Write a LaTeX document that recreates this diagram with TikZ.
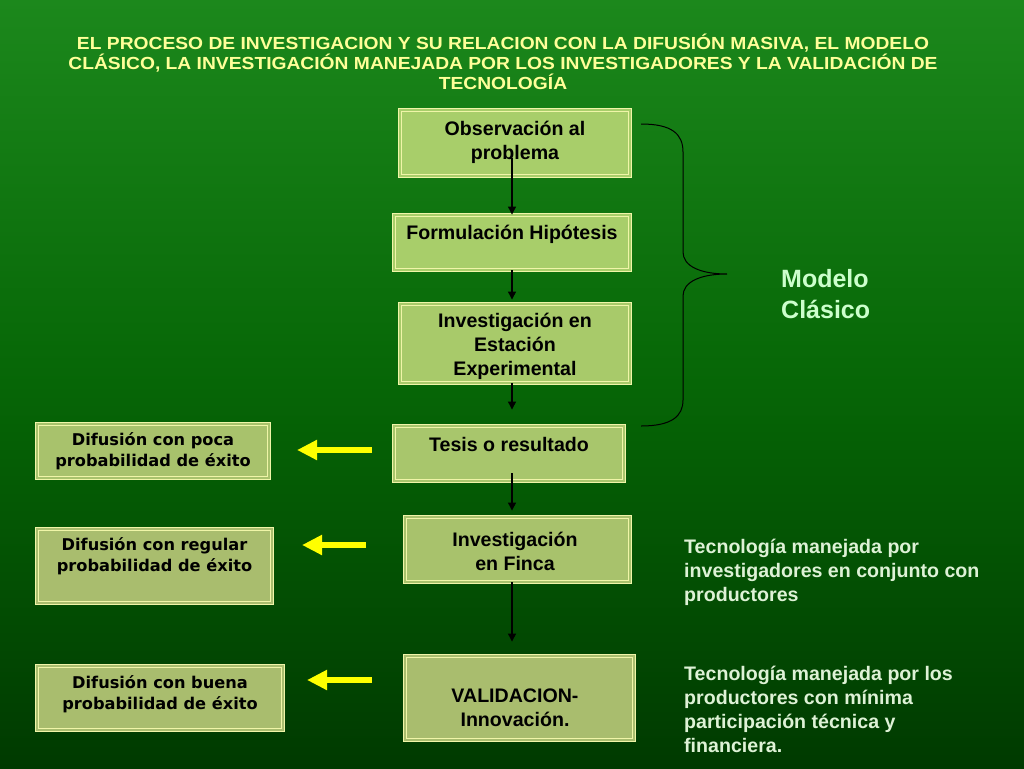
\documentclass[tikz,border=0pt]{standalone}
\usepackage{fontspec}
\setmainfont{Liberation Sans}
\newfontfamily\verd{DejaVu Sans}
\newfontfamily\ttlfont{Liberation Sans}[FakeStretch=1.1]
\usetikzlibrary{arrows.meta,calc}
\definecolor{bgtop}{RGB}{28,136,28}
\definecolor{bgmid}{RGB}{6,102,6}
\definecolor{bgbot}{RGB}{0,58,0}
\definecolor{bord}{RGB}{240,245,168}
\definecolor{fa}{RGB}{168,206,106}
\definecolor{fb}{RGB}{168,202,106}
\definecolor{fc}{RGB}{168,198,108}
\definecolor{fd}{RGB}{168,194,108}
\definecolor{fe}{RGB}{169,189,110}
\definecolor{ttl}{RGB}{255,255,153}
\definecolor{mod}{RGB}{204,255,204}
\definecolor{rtx}{RGB}{222,242,214}
\definecolor{yarr}{RGB}{255,255,0}
\tikzset{
  mainbox/.style={draw=bord, line width=0.9pt, double distance=2pt, inner sep=0pt},
  maintext/.style={font=\bfseries\fontsize{19.6}{24}\selectfont, align=center, text=black, inner sep=0pt},
  lefttext/.style={font=\verd\bfseries\fontsize{16.2}{21}\selectfont, align=center, text=black, inner sep=0pt},
  flow/.style={line width=1.2pt, -{Triangle[width=8pt,length=8pt]}},
  yellowarrow/.style={yarr, line width=5.5pt, -{Triangle[width=19pt,length=20pt]}},
  righttext/.style={font=\bfseries\fontsize{19.6}{24}\selectfont, align=left, text=rtx, anchor=north west, inner sep=0pt},
}
\begin{document}
\begin{tikzpicture}[x=1pt,y=-1pt]
\shade[top color=bgtop, bottom color=bgbot, middle color=bgmid] (0,0) rectangle (1024,768);
\useasboundingbox (0,0) rectangle (1024,768);

% title
\node[font=\ttlfont\bfseries\fontsize{17.5}{20}\selectfont, text=ttl, align=center, inner sep=0pt] (title) at (503,62)
  {EL PROCESO DE INVESTIGACION Y SU RELACION CON LA DIFUSIÓN MASIVA, EL MODELO\\CLÁSICO, LA INVESTIGACIÓN MANEJADA POR LOS INVESTIGADORES Y LA VALIDACIÓN DE\\TECNOLOGÍA};

% main boxes
\node[mainbox, fill=fa, double=fa, minimum width=230, minimum height=66] (b1) at (515,143) {};
\node[mainbox, fill=fa, double=fa, minimum width=236, minimum height=55] (b2) at (512,242.5) {};
\node[mainbox, fill=fb, double=fb, minimum width=230, minimum height=79] (b3) at (515,343.5) {};
\node[mainbox, fill=fc, double=fc, minimum width=230, minimum height=55] (b4) at (509,453.5) {};
\node[mainbox, fill=fd, double=fd, minimum width=225, minimum height=65] (b5) at (517.5,549.5) {};
\node[mainbox, fill=fe, double=fe, minimum width=229, minimum height=84] (b6) at (519.5,698) {};

\node[maintext] (t1) at (515,142) {Observación al\\problema};
\node[maintext] (t2) at (512,234) {Formulación Hipótesis};
\node[maintext] (t3) at (515,346.5) {Investigación en\\Estación\\Experimental};
\node[maintext] (t4) at (509,444) {Tesis o resultado};
\node[maintext] (t5) at (515,551) {Investigación\\en Finca};
\node[maintext] (t6) at (515,707.5) {VALIDACION-\\Innovación.};

% left boxes
\node[mainbox, fill=fd, double=fd, minimum width=232, minimum height=54] (l1) at (153,451) {};
\node[mainbox, fill=fe, double=fe, minimum width=235, minimum height=74] (l2) at (154.5,566) {};
\node[mainbox, fill=fe, double=fe, minimum width=246, minimum height=64] (l3) at (160,698) {};
\node[lefttext] (lt1) at (153,451.5) {Difusión con poca\\probabilidad de éxito};
\node[lefttext] (lt2) at (154.5,556) {Difusión con regular\\probabilidad de éxito};
\node[lefttext] (lt3) at (160,694) {Difusión con buena\\probabilidad de éxito};

% black flow arrows (vertical axis x=512)
\coordinate (ax) at (512,0);
\draw[flow] ($(b1.south -| ax)+(0,-18)$) -- (b2.north -| ax);
\draw[flow] (b2.south -| ax) -- ($(b3.north -| ax)+(0,-4)$);
\draw[flow] (b3.south -| ax) -- ($(b4.north -| ax)+(0,-16)$);
\draw[flow] ($(b4.south -| ax)+(0,-8)$) -- ($(b5.north -| ax)+(0,-6)$);
\draw[flow] (b5.south -| ax) -- ($(b6.north -| ax)+(0,-14)$);

% yellow arrows
\coordinate (y1s) at (372,450); \coordinate (y1e) at (297,450);
\coordinate (y2s) at (366,545); \coordinate (y2e) at (302,545);
\coordinate (y3s) at (372,680); \coordinate (y3e) at (307,680);
\draw[yellowarrow] (y1s) -- (y1e);
\draw[yellowarrow] (y2s) -- (y2e);
\draw[yellowarrow] (y3s) -- (y3e);

% brace
\draw[line width=1pt, black] (641,124) .. controls (672,124) and (683,134) .. (683,152)
  -- (683,252) .. controls (683,266) and (700,274) .. (727,274)
  .. controls (700,274) and (683,282) .. (683,296)
  -- (683,400) .. controls (683,416) and (672,426) .. (641,426);
\node[font=\bfseries\fontsize{25}{31}\selectfont, text=mod, align=left, anchor=west, inner sep=0pt] (modelo) at (781,294) {Modelo\\Clásico};

% right texts
\node[righttext] (r1) at (684,539) {Tecnología manejada por\\investigadores en conjunto con\\productores};
\node[righttext] (r2) at (684,666) {Tecnología manejada por los\\productores con mínima\\participación técnica y\\financiera.};
\end{tikzpicture}
\end{document}
